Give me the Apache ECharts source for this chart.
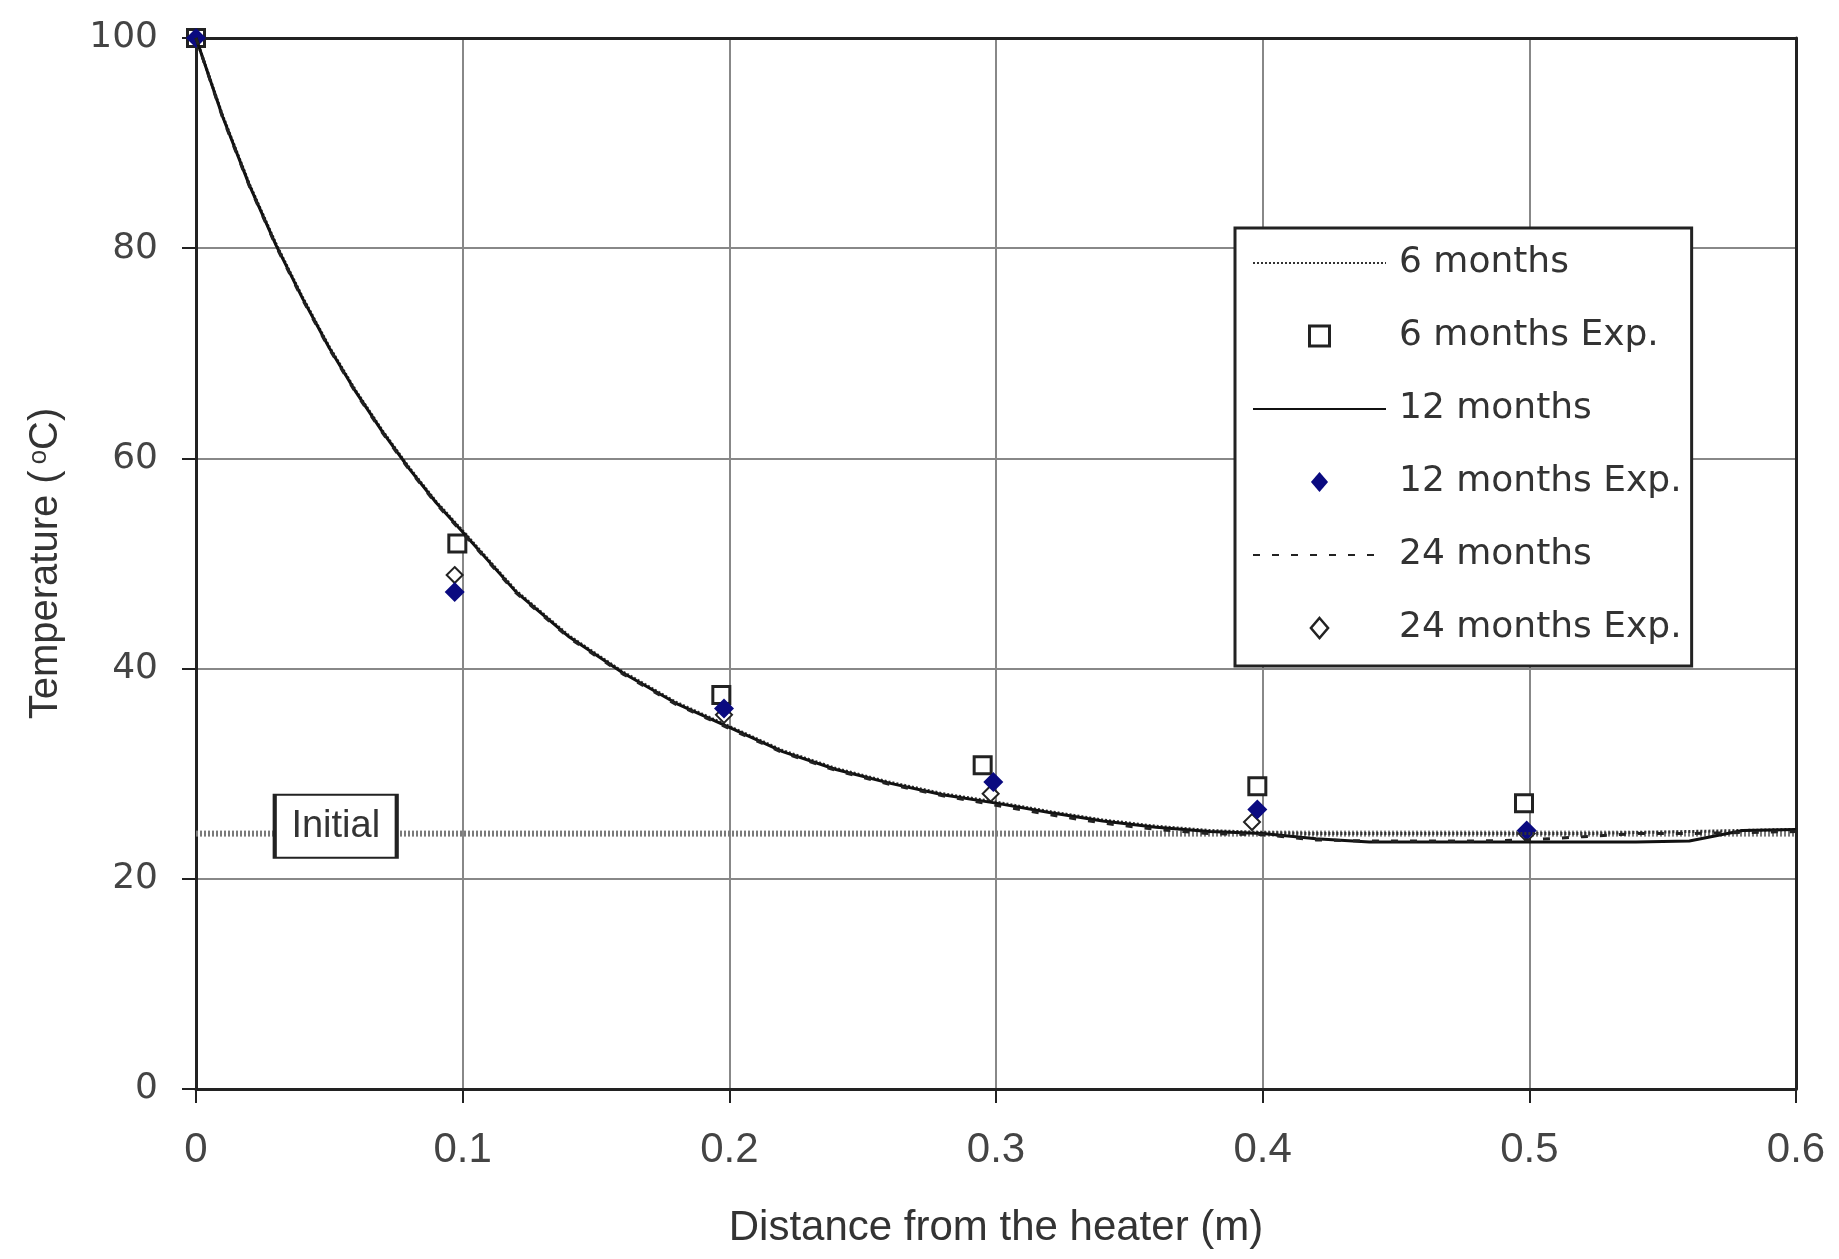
<!DOCTYPE html>
<html>
<head>
<meta charset="utf-8">
<script src="https://cdn.jsdelivr.net/npm/echarts@6/dist/echarts.min.js"></script>
<style>
html,body{margin:0;padding:0;background:#fff;}
#chart1{width:1839px;height:1259px;}
</style>
</head>
<body>
<div id="chart1"></div>
<script>
// model curves (distance m -> temperature C)
var xModel=[0,0.01,0.02,0.03,0.04,0.05,0.06,0.07,0.08,0.09,0.10,0.12,0.14,0.16,0.18,0.20,0.22,0.24,0.26,0.28,0.30,0.32,0.34,0.36,0.38,0.40,0.42,0.44,0.46,0.48,0.50,0.52,0.54,0.56,0.58,0.60];
var t6=[100,92.6,86.1,80.4,75.3,70.6,66.4,62.6,59.1,55.9,53.1,47.4,43.1,39.7,36.8,34.5,32.2,30.5,29.2,28.1,27.3,26.4,25.6,25.0,24.6,24.4,24.3,24.3,24.3,24.3,24.3,24.3,24.4,24.5,24.6,24.7];
var t12=[100,92.5,86.0,80.3,75.2,70.5,66.3,62.5,59.0,55.8,53.0,47.3,43.0,39.6,36.7,34.4,32.1,30.4,29.1,28.0,27.2,26.3,25.5,24.9,24.5,24.3,23.8,23.5,23.5,23.5,23.5,23.5,23.5,23.6,24.6,24.7];
var t24=[100,92.4,85.9,80.2,75.1,70.4,66.2,62.4,58.9,55.7,52.9,47.2,42.9,39.5,36.6,34.3,32.0,30.3,29.0,27.9,27.0,26.1,25.3,24.7,24.3,24.2,23.7,23.6,23.6,23.6,23.7,24.0,24.3,24.3,24.4,24.5];
// experiments
var exp6X=[0,0.098,0.197,0.295,0.398,0.498];
var exp6Y=[100,51.9,37.5,30.8,28.8,27.2];
var exp12X=[0,0.097,0.198,0.299,0.398,0.499];
var exp12Y=[100,47.3,36.2,29.2,26.6,24.6];
var exp24X=[0,0.097,0.198,0.298,0.396,0.499];
var exp24Y=[100,48.9,35.6,28.1,25.4,24.3];
// initial temperature
var initX=[0,0.6];
var initY=[24.3,24.3];

var pairs=function (xs,ys) {
    return xs.map(function (x,i) {return [x,ys[i]]});
};
var squareIcon="path://M0,0 L10,0 L10,10 L0,10 Z";
var diamondIcon="path://M6,0 L12,7 L6,14 L0,7 Z";
var noSymbol={opacity:0};

var chart=echarts.init(document.getElementById("chart1"));
var option={
    backgroundColor:"#fff",
    animation:false,
    grid:{
        left:196,right:43,top:38,bottom:170
    },
    legend:{
        orient:"vertical",
        left:1235,top:228,
        backgroundColor:"#fff",
        borderColor:"#222",borderWidth:3,
        padding:[17,10,20,17],
        itemWidth:133,itemHeight:20,itemGap:37,
        selectedMode:false,
        symbolKeepAspect:true,
        textStyle:{fontFamily:"DejaVu Sans",fontSize:36,lineHeight:36,color:"#333",padding:[0,0,0,8]},
        data:[
            {name:"6 months",itemStyle:noSymbol},
            {name:"6 months Exp.",icon:squareIcon,itemStyle:{color:"#fff",borderColor:"#222",borderWidth:3}},
            {name:"12 months",itemStyle:noSymbol},
            {name:"12 months Exp.",icon:diamondIcon,itemStyle:{color:"#0a0a80",borderWidth:0}},
            {name:"24 months",itemStyle:noSymbol},
            {name:"24 months Exp.",icon:diamondIcon,itemStyle:{color:"#fff",borderColor:"#222",borderWidth:2.5}}
        ]
    },
    xAxis:[{
        type:"value",min:0,max:0.6,interval:0.1,
        name:"Distance from the heater (m)",
        nameLocation:"middle",nameGap:118,
        nameTextStyle:{fontFamily:"Liberation Sans",fontSize:42,color:"#333"},
        axisLine:{lineStyle:{color:"#222",width:3}},
        axisTick:{show:true,length:14,lineStyle:{color:"#222",width:2}},
        axisLabel:{fontFamily:"Liberation Sans Narrow, Liberation Sans",fontSize:42,color:"#444",margin:40},
        splitLine:{lineStyle:{color:"#888",width:2}}
    },{
        // top frame
        type:"value",position:"top",min:0,max:0.6,interval:0.1,
        axisLine:{show:true,onZero:false,lineStyle:{color:"#222",width:3}},
        axisTick:{show:false},axisLabel:{show:false},splitLine:{show:false}
    }],
    yAxis:[{
        type:"value",min:0,max:100,interval:20,
        name:"{n|Temperature (}{s|o}{n|C)}",
        nameLocation:"middle",nameGap:130,
        nameTextStyle:{
            rich:{
                n:{fontFamily:"Liberation Sans",fontSize:40,color:"#333"},
                s:{fontFamily:"Liberation Sans",fontSize:26,color:"#333",verticalAlign:"top",padding:[0,0,14,6]}
            }
        },
        axisLine:{show:true,lineStyle:{color:"#222",width:3}},
        axisTick:{show:true,length:14,lineStyle:{color:"#222",width:2}},
        axisLabel:{fontFamily:"DejaVu Sans",fontSize:36,color:"#444",margin:38},
        splitLine:{lineStyle:{color:"#888",width:2}}
    },{
        // right frame
        type:"value",position:"right",min:0,max:100,interval:20,
        axisLine:{show:true,onZero:false,lineStyle:{color:"#222",width:3}},
        axisTick:{show:false},axisLabel:{show:false},splitLine:{show:false}
    }],
    series:[
        {name:"Initial",
            type:"line",
            data:pairs(initX,initY),
            symbol:"none",
            z:1,
            lineStyle:{color:"#7a7a7a",width:6,type:[2,2]},
            markPoint:{
                symbol:"rect",
                symbolSize:[122,63],
                itemStyle:{color:"#fff",borderColor:"#222",borderWidth:3},
                label:{show:true,position:"inside",formatter:"Initial",fontFamily:"Liberation Sans",fontSize:38,color:"#333"},
                data:[{coord:[0.0524,25.0]}]
            }
        },
        {name:"6 months",
            type:"line",
            data:pairs(xModel,t6),
            symbol:"none",
            itemStyle:{color:"#333"},
            lineStyle:{color:"#333",width:3,type:[2,2]}
        },
        {name:"6 months Exp.",
            type:"scatter",
            data:pairs(exp6X,exp6Y),
            symbol:"rect",symbolSize:17,
            itemStyle:{color:"#fff",borderColor:"#222",borderWidth:3,opacity:1}
        },
        {name:"12 months",
            type:"line",
            data:pairs(xModel,t12),
            symbol:"none",
            itemStyle:{color:"#111"},
            lineStyle:{color:"#111",width:3}
        },
        {name:"12 months Exp.",
            type:"scatter",
            data:pairs(exp12X,exp12Y),
            symbol:"diamond",symbolSize:20,
            itemStyle:{color:"#0a0a80",opacity:1}
        },
        {name:"24 months",
            type:"line",
            data:pairs(xModel,t24),
            symbol:"none",
            itemStyle:{color:"#222"},
            lineStyle:{color:"#222",width:3,type:[7,12]}
        },
        {name:"24 months Exp.",
            type:"scatter",
            data:pairs(exp24X,exp24Y),
            symbol:"diamond",symbolSize:16,
            z:1,
            itemStyle:{color:"#fff",borderColor:"#222",borderWidth:2,opacity:1}
        }
    ]
};
chart.setOption(option);
</script>
</body>
</html>
